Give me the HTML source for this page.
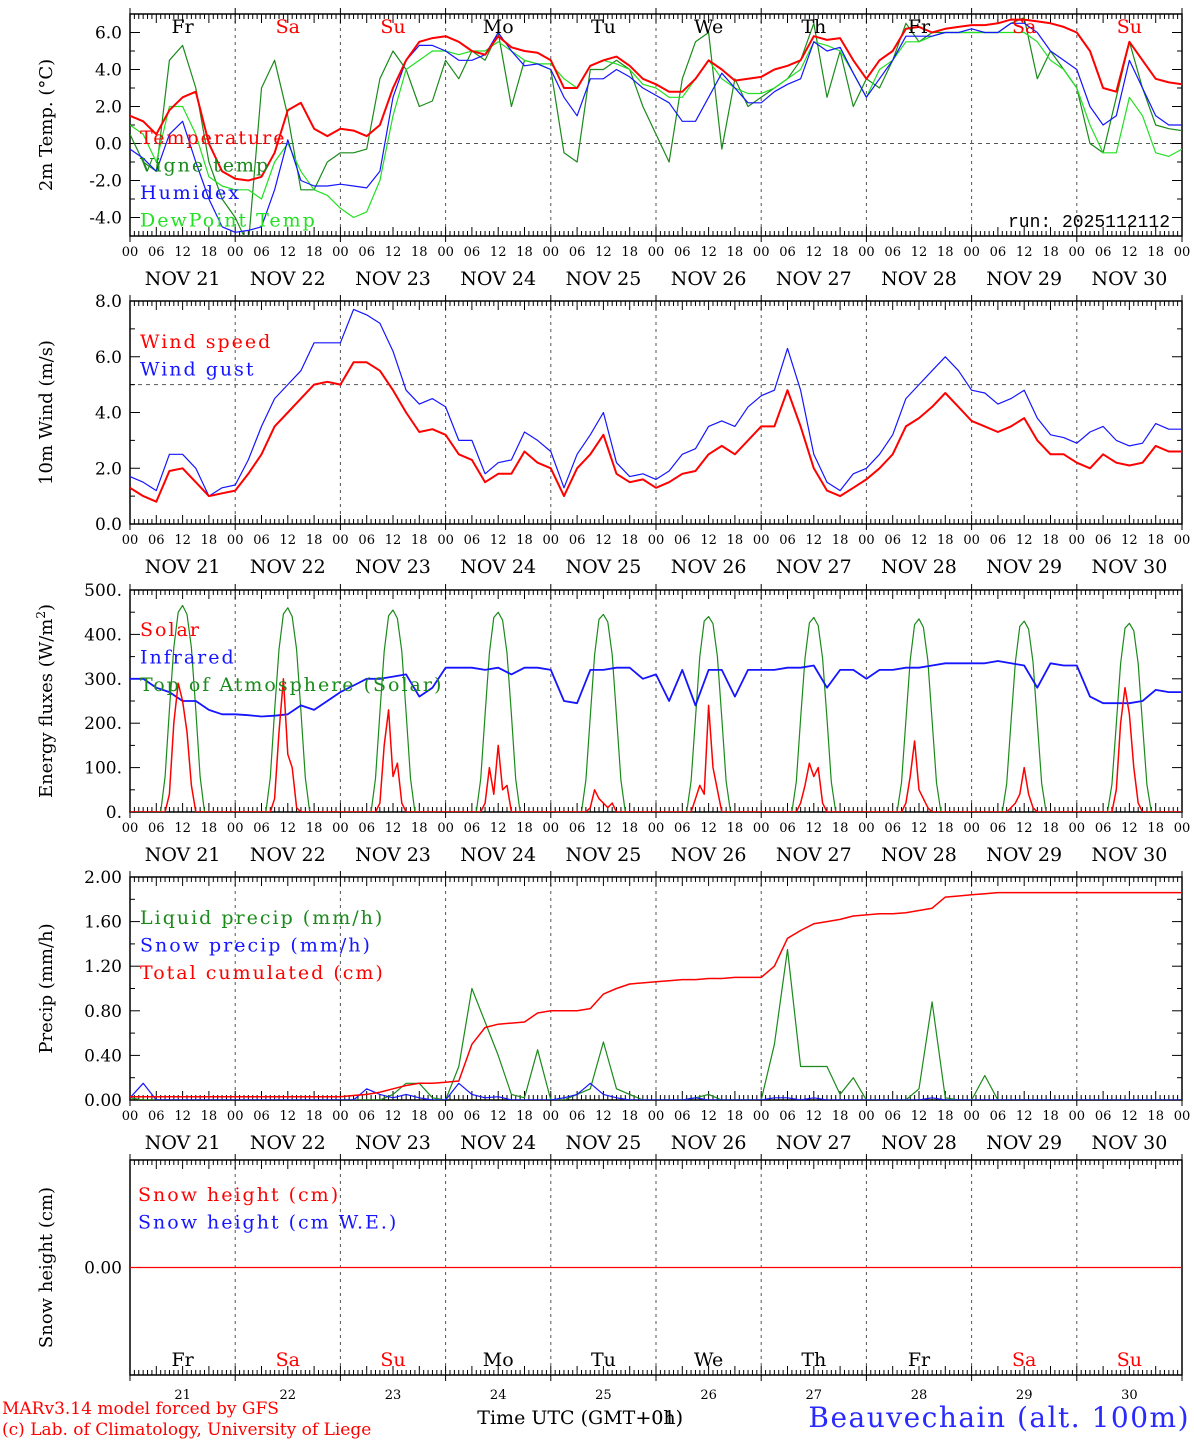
<!DOCTYPE html>
<html><head><meta charset="utf-8">
<style>
html,body{margin:0;padding:0;background:#fff;}
svg{display:block;font-family:"DejaVu Serif","Liberation Serif",serif;}
</style></head>
<body>
<svg id="chart" width="1194" height="1440" viewBox="0 0 1194 1440" xmlns="http://www.w3.org/2000/svg"></svg>
<script>
// ---------- DATA (3-hourly from Nov 21 00 UTC, 81 points) ----------
const days = ['21','22','23','24','25','26','27','28','29','30'];
const dayNames = ['Fr','Sa','Su','Mo','Tu','We','Th','Fr','Sa','Su'];
const dayColors = ['#000','#f00','#f00','#000','#000','#000','#000','#000','#f00','#f00'];
const hourTicks = ['00','06','12','18'];

const temperature = [1.5,1.2,0.5,1.8,2.5,2.8,0.0,-1.5, -1.9,-2.0,-1.8,-0.5,1.8,2.2,0.8,0.4, 0.8,0.7,0.4,1.0,3.0,4.5,5.5,5.7, 5.8,5.5,5.0,4.8,5.8,5.2,5.0,4.9, 4.5,3.0,3.0,4.2,4.5,4.7,4.2,3.5, 3.2,2.8,2.8,3.5,4.5,4.0,3.4,3.5, 3.6,4.0,4.2,4.5,5.8,5.6,5.7,4.5, 3.5,4.5,5.0,6.2,6.3,6.0,6.2,6.3, 6.4,6.4,6.5,6.7,6.7,6.6,6.5,6.3, 6.0,5.0,3.0,2.8,5.5,4.5,3.5,3.3, 3.2];
const vigneTemp = [0.5,-1.0,-1.5,4.5,5.3,3.0,-1.0,-3.0, -4.0,-5.5,3.0,4.5,1.5,-2.5,-2.5,-1.0, -0.5,-0.5,-0.3,3.5,5.0,4.0,2.0,2.3, 4.5,3.5,5.0,4.5,6.0,2.0,4.5,4.3, 4.0,-0.5,-1.0,4.0,4.0,4.5,4.0,2.0, 0.5,-1.0,3.5,5.5,6.0,-0.3,3.5,2.0, 2.5,3.0,3.5,4.5,6.5,2.5,5.0,2.0, 3.5,3.0,4.5,6.5,5.5,6.0,6.0,6.0, 6.0,6.0,6.0,6.5,6.8,3.5,5.0,4.0, 3.0,0.0,-0.5,2.5,5.5,3.0,1.0,0.8, 0.7];
const humidex = [-0.3,-0.8,-1.5,0.5,1.2,-1.0,-3.0,-4.5, -4.8,-4.7,-4.5,-2.5,0.2,-2.0,-2.3,-2.3, -2.2,-2.3,-2.4,-1.5,2.5,4.5,5.3,5.3, 5.0,4.5,4.5,4.8,6.0,5.0,4.2,4.3, 4.0,2.5,1.5,3.5,3.5,4.0,3.6,3.0, 2.6,2.2,1.2,1.2,2.5,3.8,3.0,2.2, 2.2,2.8,3.2,3.5,5.5,5.0,5.2,3.8, 2.5,3.5,4.5,5.8,5.8,5.8,6.0,6.0, 6.2,6.0,6.0,6.5,6.5,6.0,5.0,4.5, 4.0,2.0,1.0,1.5,4.5,3.0,1.5,1.0, 1.0];
const dewPoint = [1.0,0.5,-1.0,2.0,2.0,0.5,-1.8,-2.3, -2.5,-2.5,-3.0,-1.0,0.0,-1.5,-2.5,-2.8, -3.5,-4.0,-3.7,-2.0,1.5,4.0,4.5,5.0, 5.0,4.8,5.0,5.0,5.5,5.0,4.5,4.3, 4.3,3.5,3.0,4.2,4.5,4.3,4.0,3.2, 3.0,2.5,2.5,3.5,4.5,3.5,3.0,2.7, 2.7,3.0,3.5,4.0,5.5,5.3,5.0,3.8, 2.5,4.0,4.5,5.5,5.5,5.8,6.0,6.0, 6.0,6.0,6.0,6.0,6.0,5.5,4.5,4.0, 3.0,1.0,-0.5,-0.5,2.5,1.5,-0.5,-0.7, -0.3];

const windSpeed = [1.3,1.0,0.8,1.9,2.0,1.5,1.0,1.1, 1.2,1.8,2.5,3.5,4.0,4.5,5.0,5.1, 5.0,5.8,5.8,5.5,4.8,4.0,3.3,3.4, 3.2,2.5,2.3,1.5,1.8,1.8,2.6,2.2, 2.0,1.0,2.0,2.5,3.2,1.8,1.5,1.6, 1.3,1.5,1.8,1.9,2.5,2.8,2.5,3.0, 3.5,3.5,4.8,3.5,2.0,1.2,1.0,1.3, 1.6,2.0,2.5,3.5,3.8,4.2,4.7,4.2, 3.7,3.5,3.3,3.5,3.8,3.0,2.5,2.5, 2.2,2.0,2.5,2.2,2.1,2.2,2.8,2.6, 2.6];
const windGust = [1.7,1.5,1.2,2.5,2.5,2.0,1.0,1.3, 1.4,2.3,3.5,4.5,5.0,5.5,6.5,6.5, 6.5,7.7,7.5,7.2,6.2,4.8,4.3,4.5, 4.2,3.0,3.0,1.8,2.2,2.3,3.3,3.0, 2.6,1.3,2.5,3.2,4.0,2.2,1.7,1.8, 1.6,1.9,2.5,2.7,3.5,3.7,3.5,4.2, 4.6,4.8,6.3,4.8,2.5,1.5,1.2,1.8, 2.0,2.5,3.2,4.5,5.0,5.5,6.0,5.5, 4.8,4.7,4.3,4.5,4.8,3.8,3.2,3.1, 2.9,3.3,3.5,3.0,2.8,2.9,3.6,3.4, 3.4];

// hourly daytime values 07..17 UTC for each day (zero otherwise)
const toaDaytime = [
 [0,80,230,370,450,465,445,370,230,80,0],[0,78,228,366,446,460,440,366,228,78,0],
 [0,76,224,362,442,455,436,362,224,76,0],[0,74,220,358,438,450,432,358,220,74,0],
 [0,72,216,354,434,445,428,354,216,72,0],[0,70,212,350,430,440,424,350,212,70,0],
 [0,68,210,346,426,438,420,346,210,68,0],[0,66,206,342,422,435,416,342,206,66,0],
 [0,64,202,338,418,430,412,338,202,64,0],[0,62,198,334,414,425,408,334,198,62,0]];
const solarDaytime = [
 [0,0,40,200,290,250,180,60,0,0,0],[0,0,30,180,300,130,100,10,0,0,0],
 [0,0,20,150,230,80,110,20,0,0,0],[0,0,20,100,40,150,50,60,0,0,0],
 [0,0,10,50,30,20,10,20,0,0,0],[0,0,30,60,40,240,100,50,0,0,0],
 [0,0,20,60,110,80,100,20,0,0,0],[0,0,20,80,160,50,30,10,0,0,0],
 [0,0,10,20,40,100,40,10,0,0,0],[0,0,50,200,280,220,100,20,0,0,0]];
const infrared = [300,300,280,270,250,250,230,220, 220,218,215,217,220,240,230,250, 270,285,300,300,305,310,260,280, 325,325,325,320,325,310,325,325, 320,250,245,320,320,325,325,300, 310,250,320,240,320,320,260,320, 320,320,325,325,330,280,320,320, 300,320,320,325,325,330,335,335, 335,335,340,335,330,280,335,330, 330,260,245,245,245,250,275,270, 270];

const liquidPrecip = [0.02,0,0,0,0,0,0,0, 0,0,0,0,0,0,0,0, 0,0,0,0,0.05,0.15,0.15,0.02, 0,0.3,1.0,0.7,0.4,0.05,0.02,0.45, 0,0,0.05,0.1,0.52,0.1,0.05,0, 0,0,0,0.02,0.05,0,0,0, 0,0.5,1.35,0.3,0.3,0.3,0.05,0.2, 0,0,0,0,0.1,0.88,0.02,0, 0,0.22,0,0,0,0,0,0, 0,0,0,0,0,0,0,0, 0];
const snowPrecip = [0.02,0.15,0,0,0,0,0,0, 0,0,0,0,0,0,0,0, 0,0,0.1,0.05,0.02,0.05,0.02,0, 0,0.15,0.05,0.02,0.03,0,0,0, 0,0.02,0.05,0.15,0.05,0.02,0,0, 0,0,0,0.02,0,0,0,0, 0,0.02,0.02,0,0.02,0,0,0, 0,0,0,0,0,0.02,0,0, 0,0,0,0,0,0,0,0, 0,0,0,0,0,0,0,0, 0];
const totalCumul = [0.03,0.03,0.03,0.03,0.03,0.03,0.03,0.03, 0.03,0.03,0.03,0.03,0.03,0.03,0.03,0.03, 0.03,0.04,0.05,0.07,0.1,0.13,0.15,0.15, 0.16,0.17,0.5,0.65,0.68,0.69,0.7,0.78, 0.8,0.8,0.8,0.82,0.95,1.0,1.04,1.05, 1.06,1.07,1.08,1.08,1.09,1.09,1.1,1.1, 1.1,1.2,1.45,1.52,1.58,1.6,1.62,1.65, 1.66,1.67,1.67,1.68,1.7,1.72,1.82,1.83, 1.84,1.85,1.86,1.86,1.86,1.86,1.86,1.86, 1.86,1.86,1.86,1.86,1.86,1.86,1.86,1.86, 1.86];
const snowHeight = new Array(81).fill(0);

// ---------- RENDER ----------
const NS='http://www.w3.org/2000/svg';
const svg=document.getElementById('chart');
const X0=130, X1=1182, HOURS=240;
const xs=h=>X0+h*(X1-X0)/HOURS;
function mk(tag,attrs,name,parent){
  const el=document.createElementNS(NS,tag);
  for(const k in attrs) el.setAttribute(k,attrs[k]);
  
  
  (parent||svg).appendChild(el);
  return el;
}
function txt(s,x,y,attrs,name,parent){const t=mk('text',Object.assign({x:x,y:y},attrs),name,parent);t.textContent=s;return t;}

function panel(cfg){
  const g=mk('g',{},cfg.name);
  const {top,bot,min,max}=cfg;
  const ys=v=>bot-(v-min)*(bot-top)/(max-min);
  const cid='clip-'+cfg.name;
  const cp=mk('clipPath',{id:cid},cid,g);
  mk('rect',{x:X0,y:top,width:X1-X0,height:bot-top},'clip-rect',cp);
  for(let d=1;d<10;d++) mk('line',{x1:xs(d*24),x2:xs(d*24),y1:top,y2:bot,stroke:'#555','stroke-dasharray':'3,4','stroke-width':1},'day-separator',g);
  if(cfg.hline!==undefined) mk('line',{x1:X0,x2:X1,y1:ys(cfg.hline),y2:ys(cfg.hline),stroke:'#555','stroke-dasharray':'4,4'},'reference-line',g);
  mk('rect',{x:X0,y:top,width:X1-X0,height:bot-top,fill:'none',stroke:'#000','stroke-width':1.5},'plot-frame',g);
  for(let h=0;h<=HOURS;h++){
    const L=h%6===0?9:5;
    mk('line',{x1:xs(h),x2:xs(h),y1:bot,y2:bot-L,stroke:'#000','stroke-width':1},'x-tick',g);
    mk('line',{x1:xs(h),x2:xs(h),y1:top,y2:top+L,stroke:'#000','stroke-width':1},'x-tick-top',g);
    if(h%24===0){
      mk('line',{x1:xs(h),x2:xs(h),y1:top-6,y2:top,stroke:'#000'},'x-tick-day',g);
      mk('line',{x1:xs(h),x2:xs(h),y1:bot,y2:bot+6,stroke:'#000'},'x-tick-day',g);
    }
  }
  cfg.ticks.forEach((v,i)=>{
    const y=ys(v);
    mk('line',{x1:X0,x2:X0+10,y1:y,y2:y,stroke:'#000'},'y-tick',g);
    mk('line',{x1:X1,x2:X1-10,y1:y,y2:y,stroke:'#000'},'y-tick-right',g);
    if(cfg.tickLabels) txt(cfg.tickLabels[i],X0-8,y+6,{'text-anchor':'end','font-size':17},'y-tick-label',g);
  });
  (cfg.minor||[]).forEach(v=>{const y=ys(v);
    mk('line',{x1:X0,x2:X0+5,y1:y,y2:y,stroke:'#000'},'y-minor-tick',g);
    mk('line',{x1:X1,x2:X1-5,y1:y,y2:y,stroke:'#000'},'y-minor-tick',g);});
  txt(cfg.ytitle,52,(top+bot)/2,{'text-anchor':'middle','font-size':18,transform:`rotate(-90 52 ${(top+bot)/2})`},'y-axis-title',g);
  if(cfg.xlabels!==false){
    for(let d=0;d<10;d++){
      for(let k=0;k<4;k++) txt(hourTicks[k],xs(d*24+k*6),bot+20,{'text-anchor':'middle','font-size':13},'x-hour-label',g);
      txt('NOV '+days[d],xs(d*24+12),bot+49,{'text-anchor':'middle','font-size':19},'x-date-label',g);
    }
    txt('00',xs(240),bot+20,{'text-anchor':'middle','font-size':13},'x-hour-label',g);
  }
  const sg=mk('g',{'clip-path':`url(#${cid})`},'series-group',g);
  (cfg.series||[]).forEach(s=>{
    const step=s.step||3;
    const pts=s.data.map((v,i)=>xs(i*step).toFixed(1)+','+ys(v).toFixed(1)).join(' ');
    mk('polyline',{points:pts,fill:'none',stroke:s.color,'stroke-width':s.w||1.2,'stroke-linejoin':'round'},s.name,sg);
  });
  (cfg.legend||[]).forEach((l,i)=>txt(l[0],cfg.legX||140,cfg.legY+i*27.5,{fill:l[1],'font-size':19,'letter-spacing':'2'},'legend-entry',g));
  return {g,ys};
}
function fromDaytime(arr){const out=[];for(let d=0;d<10;d++){for(let h=0;h<24;h++){out.push(h>=7&&h<=17?arr[d][h-7]:0);}}out.push(0);return out;}

const p1=panel({name:'temperature-panel',top:14,bot:236,min:-5,max:7,ticks:[-4,-2,0,2,4,6],tickLabels:['-4.0','-2.0','0.0','2.0','4.0','6.0'],
  minor:[-5,-3,-1,1,3,5,7],ytitle:'2m Temp. (\u00B0C)',hline:0,
  series:[{name:'vigne-temp-line',data:vigneTemp,color:'#1a8a1a'},{name:'dewpoint-line',data:dewPoint,color:'#22e022'},{name:'humidex-line',data:humidex,color:'#1515ff'},{name:'temperature-line',data:temperature,color:'#ff0000',w:2}],
  legend:[['Temperature','#f00'],['Vigne temp','#1a8a1a'],['Humidex','#1515ff'],['DewPoint Temp','#22e022']],legY:144});
for(let d=0;d<10;d++) txt(dayNames[d],xs(d*24+12),33,{'text-anchor':'middle','font-size':19,fill:dayColors[d]},'day-name-label',p1.g);
txt('run: 2025112112',1170,227,{'text-anchor':'end','font-size':18,'font-family':'Liberation Mono, monospace'},'run-label',p1.g);

panel({name:'wind-panel',top:301,bot:524,min:0,max:8,ticks:[0,2,4,6,8],tickLabels:['0.0','2.0','4.0','6.0','8.0'],minor:[1,3,5,7],ytitle:'10m Wind (m/s)',hline:5,
  series:[{name:'wind-gust-line',data:windGust,color:'#1515ff'},{name:'wind-speed-line',data:windSpeed,color:'#ff0000',w:2}],
  legend:[['Wind speed','#f00'],['Wind gust','#1515ff']],legY:348});

const p3=panel({name:'energy-panel',top:590,bot:812,min:0,max:500,ticks:[0,100,200,300,400,500],tickLabels:['0.','100.','200.','300.','400.','500.'],minor:[50,150,250,350,450],ytitle:'',
  series:[{name:'toa-solar-line',data:fromDaytime(toaDaytime),color:'#1a8a1a',step:1},{name:'infrared-line',data:infrared,color:'#1515ff',w:1.8},{name:'solar-line',data:fromDaytime(solarDaytime),color:'#ff0000',step:1,w:1.5}],
  legend:[['Solar','#f00'],['Infrared','#1515ff'],['Top of Atmosphere (Solar)','#1a8a1a']],legY:636});
const et=txt('Energy fluxes (W/m',52,701,{'text-anchor':'middle','font-size':18,transform:'rotate(-90 52 701)'},'y-axis-title',p3.g);
const sup=mk('tspan',{'baseline-shift':'super','font-size':12},'superscript',et);sup.textContent='2';
const cl=mk('tspan',{},'paren',et);cl.textContent=')';

panel({name:'precip-panel',top:877,bot:1100,min:0,max:2,ticks:[0,0.4,0.8,1.2,1.6,2.0],tickLabels:['0.00','0.40','0.80','1.20','1.60','2.00'],minor:[0.2,0.6,1.0,1.4,1.8],ytitle:'Precip (mm/h)',
  series:[{name:'liquid-precip-line',data:liquidPrecip,color:'#1a8a1a'},{name:'snow-precip-line',data:snowPrecip,color:'#1515ff'},{name:'total-cumulated-line',data:totalCumul,color:'#ff0000',w:1.5}],
  legend:[['Liquid precip (mm/h)','#1a8a1a'],['Snow precip (mm/h)','#1515ff'],['Total cumulated (cm)','#f00']],legY:924});

const p5=panel({name:'snow-panel',top:1160,bot:1375,min:-1,max:1,ticks:[0],tickLabels:['0.00'],ytitle:'Snow height (cm)',xlabels:false,
  series:[{name:'snow-height-line',data:snowHeight,color:'#ff0000'}],
  legend:[['Snow height (cm)','#f00'],['Snow height (cm W.E.)','#1515ff']],legY:1201,legX:138});
for(let d=0;d<10;d++){
  txt(dayNames[d],xs(d*24+12),1366,{'text-anchor':'middle','font-size':19,fill:dayColors[d]},'day-name-label',p5.g);
  txt(days[d],xs(d*24+12),1399,{'text-anchor':'middle','font-size':13},'day-number-label',p5.g);
}
txt('Time UTC (GMT+0h)',683,1424,{'text-anchor':'end','font-size':19},'x-axis-title');
txt('+01)',683,1424,{'text-anchor':'end','font-size':19},'x-axis-title-overlay');
txt('MARv3.14 model forced by GFS',2,1414,{'font-size':17,fill:'#f00'},'model-credit');
txt('(c) Lab. of Climatology, University of Liege',2,1435,{'font-size':17,fill:'#f00'},'copyright-credit');
txt('Beauvechain (alt. 100m)',1190,1427,{'text-anchor':'end','font-size':28,'letter-spacing':'1.5',fill:'#2a2aff'},'station-title');
</script>
</body></html>
